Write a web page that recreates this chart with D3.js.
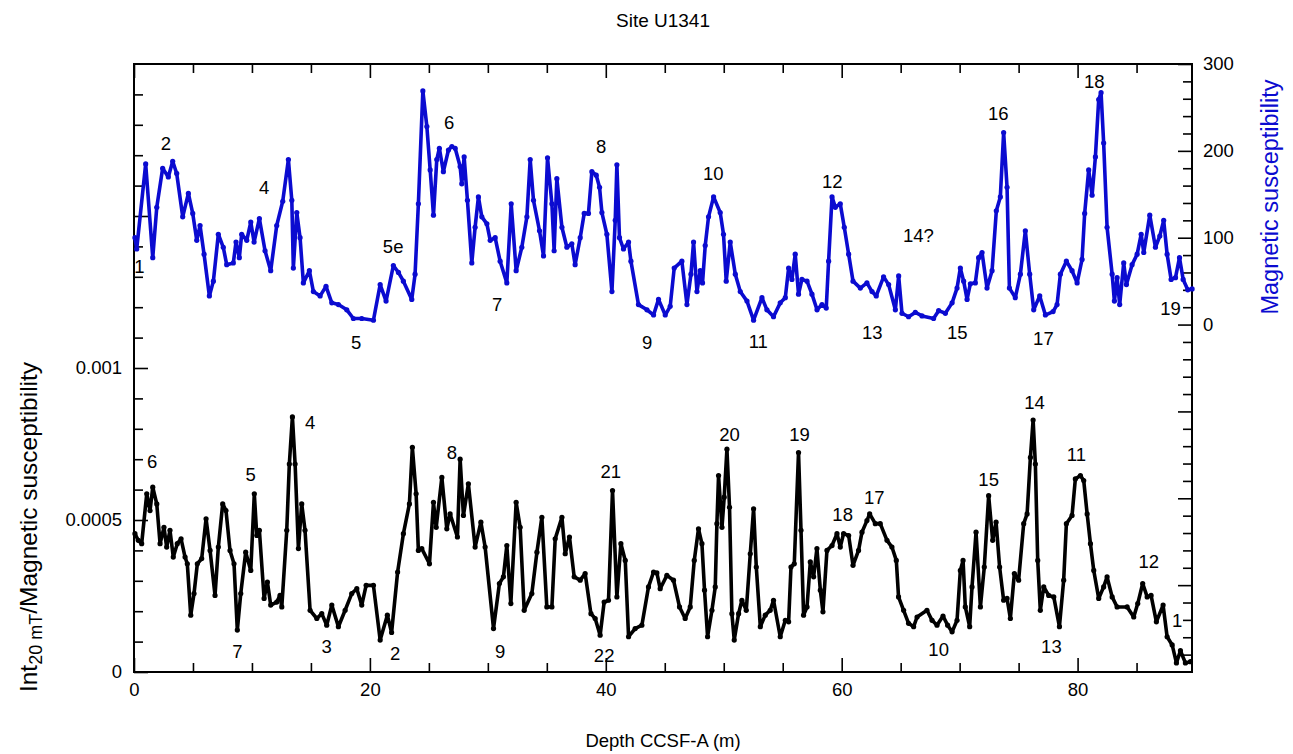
<!DOCTYPE html>
<html>
<head>
<meta charset="utf-8">
<script src="https://cdn.jsdelivr.net/npm/d3@7"></script>
<style>
  body { margin: 0; background: #fff; }
  svg text { font-family: "Liberation Sans", Arial, Helvetica, sans-serif; }
</style>
</head>
<body>
<div id="chart"></div>
<script>
// magnetic susceptibility (upper, right axis)
const msDepth = [0.08,0.23,0.99,1.59,1.93,2.43,2.91,3.28,3.62,4.13,4.61,4.98,5.32,5.60,5.94,6.39,6.73,7.15,7.57,7.86,
  8.42,8.65,8.93,9.13,9.56,9.90,10.18,10.63,11.11,11.59,12.10,12.61,13.09,13.38,13.51,13.80,14.08,14.36,14.87,15.21,
  15.78,16.28,16.77,17.33,18.04,18.60,19.31,20.30,20.87,21.37,21.99,22.42,22.84,23.55,23.83,24.11,24.49,24.83,25.11,25.39,
  25.67,25.89,26.23,26.66,26.95,27.23,27.65,27.79,27.99,28.27,28.64,28.92,29.20,29.49,29.92,30.20,30.62,31.04,31.61,31.98,
  32.40,32.88,33.31,33.59,33.87,34.38,34.72,35.06,35.43,35.62,35.85,36.28,36.70,37.12,37.40,37.83,38.17,38.53,38.82,39.19,
  39.47,39.67,40.09,40.52,40.80,40.94,41.16,41.50,41.93,42.13,42.77,43.49,44.05,44.47,45.04,45.46,45.80,46.45,46.88,47.22,
  47.44,47.73,48.01,48.20,48.43,48.71,49.14,49.70,49.98,50.21,50.55,50.98,51.40,51.97,52.53,53.24,53.66,54.22,54.79,55.22,
  55.50,55.78,56.06,56.34,56.63,57.06,57.48,57.91,58.33,58.69,58.89,59.18,59.46,59.88,60.22,60.59,60.96,61.58,62.14,62.57,
  62.93,63.55,63.98,64.55,64.83,65.11,65.67,66.24,66.81,67.79,68.22,68.79,69.36,69.78,70.06,70.34,70.63,70.91,71.33,71.61,
  71.90,72.32,72.75,73.11,73.45,73.73,74.02,74.22,74.72,75.15,75.57,75.94,76.28,76.79,77.27,77.92,78.26,78.54,79.05,79.53,
  79.96,80.38,80.60,80.94,81.23,81.51,81.79,81.99,82.21,82.50,82.93,83.12,83.35,83.57,83.91,84.14,84.62,85.05,85.39,85.61,
  86.12,86.60,86.97,87.30,87.59,87.93,88.30,88.64,88.95,89.34,89.71];
const magSus = [100,87,185,77,135,180,170,188,174,124,151,128,97,114,81,33,50,104,89,69,
  71,95,77,104,97,118,95,122,85,62,114,142,190,143,65,129,100,48,62,38,
  33,44,25,23,17,7,7,5,46,27,68,60,50,29,58,139,269,228,178,126,
  190,203,176,201,205,203,182,162,193,143,71,112,147,124,116,97,100,73,48,139,
  62,89,124,190,143,108,79,192,139,85,168,112,89,93,69,100,128,128,176,172,
  158,129,104,38,120,184,100,87,95,73,23,17,11,29,11,21,65,73,23,58,
  95,38,62,48,91,124,147,129,104,50,95,58,38,27,5,31,17,9,25,31,
  65,52,81,35,52,50,35,17,23,19,73,147,135,139,112,81,50,42,48,38,
  33,55,46,17,56,13,9,14,10,7,16,13,25,42,65,50,29,47,48,77,
  83,42,62,131,147,221,158,42,31,58,108,58,17,33,11,15,23,58,73,62,
  48,75,128,178,149,193,259,267,209,112,58,27,54,23,71,46,69,81,104,83,
  126,89,102,120,81,52,54,77,52,40,41];

// Int20mT / magnetic susceptibility (lower, left axis)
const irDepth = [0.08,0.36,0.65,1.08,1.36,1.59,1.93,2.21,2.54,2.77,3.05,3.33,3.67,3.99,4.33,4.52,4.81,5.09,5.37,5.74,
  6.11,6.45,6.87,7.15,7.52,7.80,8.14,8.48,8.76,9.05,9.47,9.90,10.20,10.41,10.63,11.03,11.31,11.59,12.10,12.38,
  12.53,12.95,13.17,13.43,13.66,13.94,14.22,14.50,14.93,15.50,15.92,16.34,16.77,17.33,17.90,18.46,18.89,19.31,19.68,20.30,
  20.87,21.48,21.84,22.35,22.84,23.35,23.60,23.92,24.11,24.40,25.05,25.39,25.62,26.10,26.52,26.80,27.42,27.65,27.93,28.35,
  28.92,29.41,29.77,30.48,30.98,31.32,31.61,31.95,32.40,32.74,33.08,33.73,34.16,34.58,35.00,35.43,35.71,36.28,36.56,36.92,
  37.32,37.83,38.25,38.74,39.10,39.52,39.86,40.23,40.57,40.94,41.28,41.65,41.93,42.49,43.06,43.62,44.05,44.33,44.61,45.18,
  45.74,46.25,46.73,47.16,47.50,47.86,48.15,48.37,48.63,49.00,49.28,49.42,49.56,49.85,50.04,50.27,50.49,50.69,50.89,51.26,
  51.54,51.91,52.25,52.53,52.76,53.10,53.52,53.94,54.22,54.79,55.22,55.50,55.70,55.98,56.34,56.55,56.77,57.06,57.34,57.62,
  57.90,58.19,58.41,58.75,59.18,59.60,59.88,60.16,60.59,60.96,61.43,61.72,62.14,62.37,62.85,63.27,63.84,64.26,64.63,64.82,
  65.25,65.67,66.10,66.39,67.23,67.66,68.08,68.59,68.98,69.36,69.78,70.06,70.29,70.48,70.85,71.05,71.39,71.76,72.09,72.46,
  72.80,73.09,73.39,73.73,74.02,74.30,74.64,75.00,75.43,75.72,76.00,76.23,76.42,76.62,76.84,77.13,77.55,77.98,78.46,78.82,
  79.05,79.53,79.81,80.24,80.52,80.81,81.09,81.37,81.79,82.21,82.50,82.93,83.35,84.20,84.76,85.10,85.52,85.90,86.23,86.68,
  87.25,87.59,88.02,88.38,88.72,89.14,89.57];
const intRatio = [4.55e-4,4.33e-4,4.22e-4,5.86e-4,5.31e-4,6.08e-4,5.53e-4,4.22e-4,4.76e-4,4.11e-4,4.66e-4,3.78e-4,4.22e-4,4.38e-4,3.78e-4,3.56e-4,1.87e-4,2.58e-4,3.56e-4,3.73e-4,
  5.04e-4,4.00e-4,2.52e-4,4.11e-4,5.53e-4,5.31e-4,4.00e-4,3.56e-4,1.38e-4,2.58e-4,3.94e-4,3.34e-4,5.86e-4,4.49e-4,4.66e-4,2.42e-4,2.96e-4,2.20e-4,2.30e-4,2.52e-4,
  2.14e-4,4.66e-4,6.84e-4,8.39e-4,6.84e-4,4.06e-4,5.53e-4,4.66e-4,2.03e-4,1.76e-4,1.92e-4,1.54e-4,2.20e-4,1.49e-4,2.03e-4,2.58e-4,2.74e-4,2.20e-4,2.85e-4,2.85e-4,
  1.05e-4,1.87e-4,1.30e-4,3.29e-4,4.55e-4,5.53e-4,7.39e-4,5.86e-4,4.00e-4,4.06e-4,3.56e-4,5.58e-4,4.76e-4,6.40e-4,4.71e-4,5.20e-4,4.44e-4,7.00e-4,5.15e-4,6.19e-4,
  4.11e-4,4.93e-4,4.11e-4,1.43e-4,2.91e-4,3.13e-4,4.16e-4,2.25e-4,5.58e-4,4.76e-4,2.03e-4,2.58e-4,3.94e-4,5.09e-4,2.14e-4,2.14e-4,4.38e-4,5.09e-4,3.89e-4,4.44e-4,
  3.13e-4,3.02e-4,3.24e-4,1.92e-4,1.76e-4,1.21e-4,2.30e-4,2.36e-4,5.97e-4,2.47e-4,4.22e-4,3.67e-4,1.16e-4,1.43e-4,1.54e-4,2.80e-4,3.29e-4,3.26e-4,2.74e-4,3.18e-4,
  3.02e-4,2.14e-4,1.76e-4,2.14e-4,3.67e-4,4.71e-4,4.22e-4,2.69e-4,1.16e-4,2.03e-4,2.80e-4,4.88e-4,6.46e-4,4.76e-4,5.75e-4,7.33e-4,5.42e-4,1.92e-4,1.05e-4,1.92e-4,
  2.36e-4,2.03e-4,3.89e-4,5.37e-4,3.45e-4,1.49e-4,1.87e-4,2.03e-4,2.36e-4,1.16e-4,1.70e-4,1.65e-4,3.45e-4,3.56e-4,7.22e-4,4.66e-4,1.87e-4,2.14e-4,3.62e-4,3.13e-4,
  4.06e-4,2.69e-4,1.98e-4,4.00e-4,4.16e-4,4.55e-4,4.11e-4,4.55e-4,4.49e-4,3.51e-4,4.00e-4,4.60e-4,4.98e-4,5.20e-4,4.88e-4,4.88e-4,4.33e-4,4.11e-4,3.67e-4,2.47e-4,
  2.03e-4,1.60e-4,1.49e-4,1.81e-4,2.03e-4,1.70e-4,1.54e-4,1.84e-4,1.54e-4,1.32e-4,1.70e-4,3.34e-4,3.67e-4,2.14e-4,1.49e-4,2.80e-4,4.60e-4,2.14e-4,3.45e-4,5.80e-4,
  4.33e-4,4.93e-4,3.45e-4,2.36e-4,2.42e-4,1.76e-4,3.24e-4,3.02e-4,4.88e-4,5.20e-4,7.06e-4,8.29e-4,6.84e-4,3.67e-4,2.03e-4,2.80e-4,2.52e-4,2.47e-4,1.49e-4,3.02e-4,
  4.88e-4,5.15e-4,6.35e-4,6.46e-4,6.30e-4,5.20e-4,4.22e-4,3.34e-4,2.42e-4,2.80e-4,3.13e-4,2.47e-4,2.14e-4,2.14e-4,1.81e-4,2.25e-4,2.91e-4,2.47e-4,2.52e-4,1.65e-4,
  2.20e-4,1.16e-4,0.89e-4,0.30e-4,0.70e-4,0.30e-4,0.34e-4];

// stage labels: [text, depth, value]
const msLabels = [["2",2.71,209],["4",11.03,158],["5e",21.97,90],["6",26.72,233],["8",39.61,205],["10",49.11,174],
  ["12",59.20,165],["14?",66.50,103],["16",73.28,243],["18",81.42,280],["5",18.83,-21],["7",30.79,23],["9",43.51,-20],
  ["11",52.93,-19],["13",62.60,-9],["15",69.80,-9],["17",77.10,-16],["19",87.87,19],["1",0.45,67]];
const irLabels = [["6",1.53,6.92e-4],["5",9.90,6.51e-4],["4",14.93,8.21e-4],["7",8.76,0.67e-4],["3",16.34,0.85e-4],
  ["2",22.14,0.61e-4],["8",26.95,7.22e-4],["9",31.04,0.67e-4],["22",39.86,0.56e-4],["21",40.43,6.60e-4],
  ["20",50.49,7.83e-4],["19",56.43,7.83e-4],["18",60.08,5.20e-4],["17",62.76,5.75e-4],["15",72.46,6.35e-4],
  ["14",76.34,8.86e-4],["10",68.22,0.74e-4],["13",77.78,0.83e-4],["11",79.90,7.15e-4],["12",86.03,3.65e-4],["1",88.44,1.70e-4]];

const depthTicks = [0, 20, 40, 60, 80];

const W = 1293, H = 754;
const mLeft = 134, mRight = 1192, mTop = 64, mBottom = 672;
const blue = "#0b0bd0";
const fs = 18.5;

const svg = d3.select("#chart").append("svg").attr("width", W).attr("height", H);

const x = d3.scaleLinear().domain([0, 89.7]).range([mLeft, mRight]);
const yL = d3.scaleLinear().domain([0, 0.002]).range([mBottom, mTop]);
const yR = d3.scaleLinear().domain([-400, 300]).range([mBottom, mTop]);

function styleAxis(g) {
    g.select(".domain").remove();
    g.selectAll(".tick line").attr("stroke", "#000").attr("stroke-width", 1.6);
    g.selectAll(".tick text").attr("font-size", fs).attr("fill", "#000")
        .style("font-family", '"Liberation Sans", Arial, sans-serif');
}

// x axes (ticks inward)
const minorX = d3.range(0, 90, 5).filter(d => d % 20 !== 0);
svg.append("g").attr("transform", `translate(0,${mBottom})`)
    .call(d3.axisBottom(x).tickValues(minorX).tickFormat("").tickSize(-9)).call(styleAxis);
svg.append("g").attr("transform", `translate(0,${mBottom})`)
    .call(d3.axisBottom(x).tickValues(depthTicks).tickSize(-14).tickPadding(11).tickFormat(d3.format("d")))
    .call(styleAxis);
svg.append("g").attr("transform", `translate(0,${mTop})`)
    .call(d3.axisTop(x).tickValues(minorX).tickFormat("").tickSize(-9)).call(styleAxis);
svg.append("g").attr("transform", `translate(0,${mTop})`)
    .call(d3.axisTop(x).tickValues(depthTicks).tickFormat("").tickSize(-14)).call(styleAxis);

// left axis
const minorL = d3.range(1, 20).filter(i => i % 5 !== 0).map(i => i * 1e-4);
svg.append("g").attr("transform", `translate(${mLeft},0)`)
    .call(d3.axisLeft(yL).tickValues(minorL).tickFormat("").tickSize(-9)).call(styleAxis);
svg.append("g").attr("transform", `translate(${mLeft},0)`)
    .call(d3.axisLeft(yL).tickValues([0, 0.0005, 0.001, 0.0015]).tickSize(-14).tickPadding(12)
        .tickFormat(d => d > 0.001 ? "" : (d === 0 ? "0" : String(+d.toFixed(4)))))
    .call(styleAxis);

// right axis
const minorR = d3.range(-380, 300, 20).filter(v => v % 100 !== 0);
svg.append("g").attr("transform", `translate(${mRight},0)`)
    .call(d3.axisRight(yR).tickValues(minorR).tickFormat("").tickSize(-9)).call(styleAxis);
svg.append("g").attr("transform", `translate(${mRight},0)`)
    .call(d3.axisRight(yR).tickValues(d3.range(-300, 301, 100)).tickSize(-14).tickPadding(11)
        .tickFormat(d => d >= 0 ? d : ""))
    .call(styleAxis);

// frame
svg.append("rect").attr("x", mLeft).attr("y", mTop).attr("width", mRight - mLeft).attr("height", mBottom - mTop)
    .attr("fill", "none").attr("stroke", "#000").attr("stroke-width", 2);

// series: dense markers joined by a line
function drawSeries(depths, values, yScale, color) {
    const pts = depths.map((d, i) => [x(d), yScale(values[i])]);
    const g = svg.append("g");
    g.append("path").attr("d", d3.line()(pts))
        .attr("fill", "none").attr("stroke", color).attr("stroke-width", 3.6)
        .attr("stroke-linejoin", "round").attr("stroke-linecap", "round");
    g.selectAll("circle").data(pts).join("circle")
        .attr("cx", p => p[0]).attr("cy", p => p[1]).attr("r", 2.6).attr("fill", color);
}
drawSeries(msDepth, magSus, yR, blue);
drawSeries(irDepth, intRatio, yL, "#000");

// stage labels
svg.append("g").selectAll("text").data(msLabels).join("text")
    .attr("x", d => x(d[1])).attr("y", d => yR(d[2])).attr("dy", "0.36em")
    .attr("text-anchor", "middle").attr("font-size", fs).text(d => d[0]);
svg.append("g").selectAll("text").data(irLabels).join("text")
    .attr("x", d => x(d[1])).attr("y", d => yL(d[2])).attr("dy", "0.36em")
    .attr("text-anchor", "middle").attr("font-size", fs).text(d => d[0]);

// titles
svg.append("text").attr("x", 663).attr("y", 27).attr("text-anchor", "middle")
    .attr("font-size", 19).text("Site U1341");
svg.append("text").attr("x", (mLeft + mRight) / 2).attr("y", 747).attr("text-anchor", "middle")
    .attr("font-size", 18.5).text("Depth CCSF-A (m)");

const yl = svg.append("text").attr("transform", `translate(37,527) rotate(-90)`)
    .attr("text-anchor", "middle").attr("font-size", 24.5);
yl.append("tspan").text("Int");
yl.append("tspan").attr("font-size", 18).attr("dy", "0.3em").text("20 mT");
yl.append("tspan").attr("dy", "-0.22em").text("/Magnetic susceptibility");

svg.append("text").attr("transform", `translate(1278,197) rotate(-90)`)
    .attr("text-anchor", "middle").attr("font-size", 23.5).attr("fill", blue)
    .text("Magnetic susceptibility");
</script>
</body>
</html>
